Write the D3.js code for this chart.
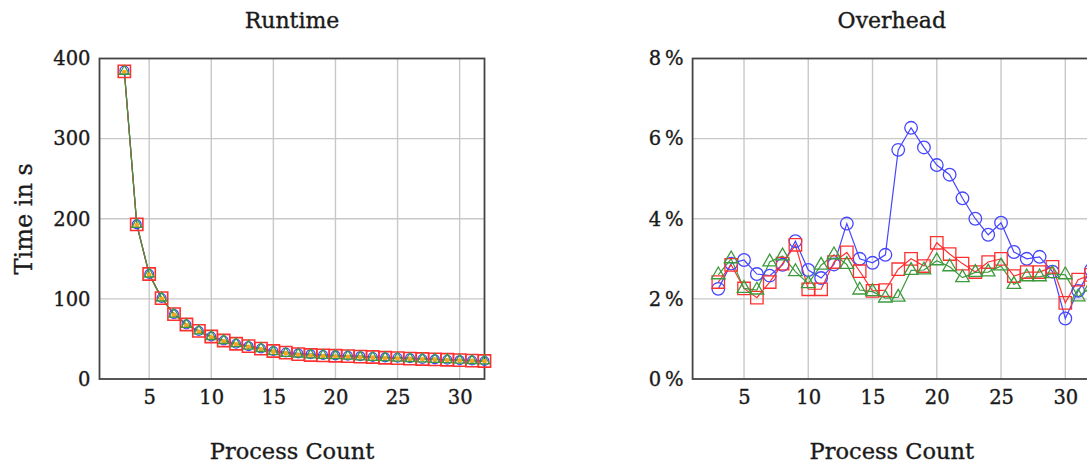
<!DOCTYPE html>
<html>
<head>
<meta charset="utf-8">
<script src="https://cdn.jsdelivr.net/npm/d3@7"></script>
<style>
  html, body { margin: 0; padding: 0; background: #fff; }
  svg { display: block; }
  text { font-family: "DejaVu Serif", serif; fill: #1a1a1a; stroke: #1a1a1a; stroke-width: 0.35px; }
</style>
</head>
<body>
<svg id="chart" width="1087" height="464"></svg>
<script>
// ---------- data ----------
const processCounts = [3,4,5,6,7,8,9,10,11,12,13,14,15,16,17,18,19,20,21,22,23,24,25,26,27,28,29,30,31,32];

const runtimeBase  = [383,192,130,100,80,67,59,52,47,43,40,37,34,32,30,29,28.5,28,27.5,27,26.5,26,25.5,25,24.5,24,23.5,23,22.5,22];
const runtimeBlue  = [385,193,131,101,81,68,60,53,48,44,41,38,35,33,32,31,30,29.5,29,28.5,27.5,27,26.5,26,25,24.5,24,23.5,23,22.5];
const runtimeRed   = [384,193,131,101,81,68,60,53,48,44,41,38,35,33,31,30,29.5,29,28.5,28,27.5,26.5,26,25.5,25,24.5,24,23.5,23,22.5];
const runtimeGreen = [384,193,131,101,81,68,60,53,48,44,41,38,34,32,31,30,29.5,29,28.5,27.5,27,26.5,26,25.5,25,24.5,24,23.5,23,22.5];

const overheadBlue  = [2.25,2.88,2.97,2.62,2.58,2.85,3.44,2.72,2.52,2.86,3.88,3.0,2.9,3.1,5.72,6.27,5.78,5.34,5.1,4.51,4.0,3.6,3.9,3.17,3.0,3.05,2.68,1.51,2.2,2.72];
const overheadRed   = [2.42,2.85,2.26,2.03,2.42,2.88,3.35,2.24,2.24,2.92,3.16,2.69,2.2,2.22,2.74,3.0,2.82,3.4,3.12,2.88,2.67,2.92,3.0,2.57,2.67,2.67,2.8,1.9,2.48,2.6];
const overheadGreen = [2.6,3.0,2.26,2.22,2.92,3.07,2.68,2.38,2.84,3.1,2.86,2.22,2.18,2.02,2.04,2.71,2.72,2.95,2.8,2.53,2.66,2.67,2.82,2.36,2.55,2.55,2.63,2.6,2.05,2.3];

const xTicks = [5,10,15,20,25,30];
const runtimeTicks = [0,100,200,300,400];
const overheadTicks = [0,2,4,6,8];

const titles = ["Runtime", "Overhead"];
const xLabel = "Process Count";
const yLabelRuntime = "Time in s";

// ---------- drawing ----------
const svg = d3.select("#chart");
const colors = { blue: "#4646ff", red: "#ff3030", green: "#3c9a3c", orange: "#f5a623" };

function symbolPath(kind, size) {
  const t = kind === "circle" ? d3.symbolCircle : kind === "square" ? d3.symbolSquare
          : kind === "triangle" ? d3.symbolTriangle : d3.symbolStar;
  return d3.symbol().type(t).size(size)();
}

function panel(opts) {
  const { x, y, series, yTicks, yFmt, title, yLabel, clipId } = opts;
  const g = svg.append("g");
  const [x0, x1] = x.range();
  const [y0, y1] = y.range();

  svg.append("clipPath").attr("id", clipId)
    .append("rect").attr("x", x0 - 8).attr("y", y1 - 8).attr("width", x1 - x0 + 16).attr("height", y0 - y1 + 16);

  // grid
  g.append("g").selectAll("line").data(xTicks).join("line")
    .attr("x1", d => x(d)).attr("x2", d => x(d)).attr("y1", y0).attr("y2", y1)
    .attr("stroke", "#c8c8c8").attr("stroke-width", 1.4);
  g.append("g").selectAll("line").data(yTicks.slice(1, -1)).join("line")
    .attr("x1", x0).attr("x2", x1).attr("y1", d => y(d)).attr("y2", d => y(d))
    .attr("stroke", "#c8c8c8").attr("stroke-width", 1.4);

  // axes (labels)
  const xa = g.append("g").attr("transform", `translate(0,${y0})`)
    .call(d3.axisBottom(x).tickValues(xTicks).tickSize(0).tickPadding(11));
  xa.select(".domain").remove();
  xa.selectAll("text").attr("font-size", 19.5).attr("font-family", "DejaVu Serif").attr("fill", "#1a1a1a");

  const ya = g.append("g").attr("transform", `translate(${x0},0)`)
    .call(d3.axisLeft(y).tickValues(yTicks).tickSize(0).tickPadding(9).tickFormat(yFmt));
  ya.select(".domain").remove();
  ya.selectAll("text").attr("font-size", 19.5).attr("font-family", "DejaVu Serif").attr("fill", "#1a1a1a");

  // frame
  g.append("rect").attr("x", x0).attr("y", y1).attr("width", x1 - x0).attr("height", y0 - y1)
    .attr("fill", "none").attr("stroke", "#444").attr("stroke-width", 1.8);

  // series
  const plot = g.append("g").attr("clip-path", `url(#${clipId})`);
  const line = d3.line().x((d, i) => x(processCounts[i])).y(d => y(d));
  series.forEach(s => {
    plot.append("path").datum(s.values).attr("d", line)
      .attr("fill", "none").attr("stroke", s.color).attr("stroke-width", 1.2);
  });
  series.forEach(s => {
    plot.append("g").selectAll("path").data(s.values).join("path")
      .attr("transform", (d, i) => `translate(${x(processCounts[i])},${y(d)})`)
      .attr("d", symbolPath(s.mark, s.size))
      .attr("fill", s.fill || "none").attr("stroke", s.color).attr("stroke-width", s.sw || 1.3);
  });

  // titles / labels
  g.append("text").attr("x", (x0 + x1) / 2).attr("y", 28).attr("text-anchor", "middle")
    .attr("font-size", 22).text(title);
  g.append("text").attr("x", (x0 + x1) / 2).attr("y", 459).attr("text-anchor", "middle")
    .attr("font-size", 22.5).text(xLabel);
  if (yLabel) {
    g.append("text").attr("transform", `translate(32,${(y0 + y1) / 2}) rotate(-90)`)
      .attr("text-anchor", "middle").attr("font-size", 24).text(yLabel);
  }
}

const xL = d3.scaleLinear().domain([1, 32]).range([99.5, 484.5]);
const yL = d3.scaleLinear().domain([0, 400]).range([379, 58.5]);
panel({
  x: xL, y: yL, yTicks: runtimeTicks, yFmt: d => d, title: titles[0], yLabel: yLabelRuntime, clipId: "clipL",
  series: [
    { values: runtimeBase, color: colors.orange, mark: "circle", size: 10, fill: colors.orange },
    { values: runtimeBlue, color: colors.blue, mark: "circle", size: 60 },
    { values: runtimeRed, color: colors.red, mark: "square", size: 150, sw: 1.6 },
    { values: runtimeGreen, color: colors.green, mark: "triangle", size: 45 }
  ]
});

const xR = d3.scaleLinear().domain([1, 32]).range([692.6, 1091]);
const yR = d3.scaleLinear().domain([0, 8]).range([379, 58.5]);
panel({
  x: xR, y: yR, yTicks: overheadTicks, yFmt: d => d + "\u2009%", title: titles[1], yLabel: null, clipId: "clipR",
  series: [
    { values: overheadBlue, color: colors.blue, mark: "circle", size: 125 },
    { values: overheadRed, color: colors.red, mark: "square", size: 155 },
    { values: overheadGreen, color: colors.green, mark: "triangle", size: 80 }
  ]
});
</script>
</body>
</html>
